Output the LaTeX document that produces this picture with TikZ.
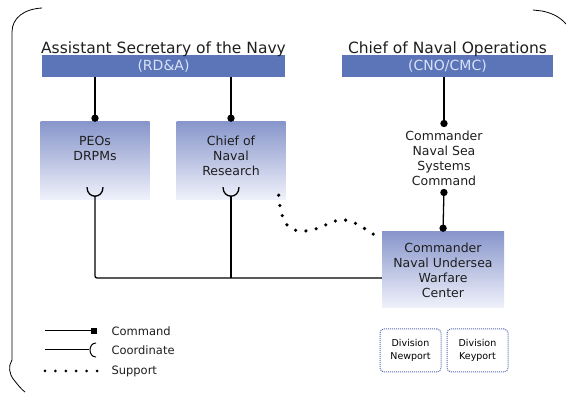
\documentclass[tikz,border=0pt]{standalone}
\usepackage{fontspec}
\setmainfont{DejaVu Sans}
\usepackage{tikz}
\usetikzlibrary{shapes,arrows,positioning,calc}
\definecolor{barblue}{HTML}{5B75B8}
\definecolor{bartext}{HTML}{D8E2F6}
\definecolor{boxtop}{HTML}{8896CB}
\definecolor{boxbottom}{HTML}{F0F2FB}
\definecolor{divline}{HTML}{5469B2}
\definecolor{inkgray}{HTML}{1E1E1E}

\begin{document}
\begin{tikzpicture}[x=1pt,y=-1pt,
  bar/.style={fill=barblue,minimum width=211pt,minimum height=22pt,inner sep=0pt,text=bartext,font=\fontsize{14}{16}\selectfont},
  title/.style={anchor=base,text=inkgray,font=\fontsize{15.5}{18}\selectfont},
  orgbox/.style={top color=boxtop,bottom color=boxbottom,minimum width=109pt,minimum height=78pt,inner sep=0pt},
  boxtext/.style={align=center,text=inkgray,font=\fontsize{12.5}{15}\selectfont},
  divbox/.style={draw=divline,densely dotted,rounded corners=4pt,line width=1pt,minimum width=61pt,minimum height=43pt,align=center,font=\fontsize{9.5}{12.5}\selectfont},
  cmd/.style={line width=1.3pt,-*},
  link/.style={line width=1.3pt},
  support/.style={line width=3.6pt,line cap=round,dash pattern=on 0pt off 10.4pt},
  legend/.style={text=inkgray,font=\fontsize{11.5}{14}\selectfont},
  cupmark/.pic={\draw[line width=1.3pt] (-8,-9) .. controls (-8,3) and (8,3) .. (8,-9);}
]
  \useasboundingbox (0,0) rectangle (566,393);

  % Frame corners
  \draw[line width=0.8pt] (42,8) .. controls (24,9) and (12,18) .. (12,32) -- (12,360)
    .. controls (8,366) and (9,374) .. (14,380) .. controls (18,385) and (21,389) .. (25,392);
  \draw[line width=0.8pt] (533,10) -- (542,11) .. controls (552,13) and (560,17) .. (566,24);

  % Top level bars
  \node[bar,minimum width=243pt] (asn) at (163.5,66) {(RD\&A)};
  \node[bar] (cno) at (447.5,66) {(CNO/CMC)};
  \node[title,yshift=1pt] (asntitle) at (asn.north) {Assistant Secretary of the Navy};
  \node[title,yshift=1pt] (cnotitle) at (cno.north) {Chief of Naval Operations};

  % Boxes
  \node[orgbox] (peo) at (95,161) {};
  \node[boxtext,below=11pt of peo.north] (peotxt) {PEOs\\DRPMs};
  \node[orgbox] (cnr) at (231,161) {};
  \node[boxtext,below=11pt of cnr.north] (cnrtxt) {Chief of\\Naval\\Research};
  \node[boxtext] (navsea) at (444,158) {Commander\\Naval Sea\\Systems\\Command};
  \node[orgbox,boxtext,minimum width=122pt,minimum height=76pt] (nuwc) at (443,270)
    {Commander\\Naval Undersea\\Warfare\\Center};
  \node[divbox] (newport) at (410.5,350.5) {Division\\Newport};
  \node[divbox,right=5pt of newport] (keyport) {Division\\Keyport};

  % Command lines
  \draw[cmd] (asn.south -| peo.north) -- (peo.north);
  \draw[cmd] (asn.south -| cnr.north) -- (cnr.north);
  \draw[cmd] (cno.south -| navsea.north) -- (navsea.north);
  \draw[link,*-*] (navsea.south) -- (nuwc.north);

  % Coordinate lines
  \coordinate (peocup) at ($(peo.south)+(0,-4)$);
  \coordinate (cnrcup) at ($(cnr.south)+(0,-4)$);
  \pic at (peocup) {cupmark};
  \pic at (cnrcup) {cupmark};
  \coordinate (bus) at (95,278);
  \draw[link,rounded corners=2pt] (peocup) -- (bus) -- (bus -| nuwc.west);
  \draw[link] (cnrcup) -- (cnrcup |- bus);

  % Support
  \coordinate (supa) at ($(cnr.south east)+(-7,-5)$);
  \coordinate (supb) at ($(nuwc.north west)+(-2,6)$);
  \draw[support] (supa) .. controls (281,226) and (290,232) .. (305,231)
    .. controls (322,230) and (333,218) .. (345,220)
    .. controls (358,222) and (368,232) .. (supb);

  % Legend
  \coordinate (lga) at (45,331);
  \coordinate (lgae) at (97,331);
  \draw[line width=1pt,-square] (lga) -- (lgae);
  \node[legend,right=11pt of lgae] (lgcmd) {Command};
  \coordinate (lgb) at (45,350);
  \coordinate (lgbe) at (89,350);
  \draw[line width=1pt] (lgb) -- (lgbe);
  \draw[line width=1pt] ($(lgbe)+(7,-7)$) .. controls +(-8,0) and +(-8,0) .. +(0,14);
  \node[legend,anchor=west] (lgcoord) at (lgcmd.west |- lgbe) {Coordinate};
  \coordinate (lgc) at (45,371);
  \coordinate (lgce) at (97,371);
  \draw[support,line width=3pt] (lgc) -- (lgce);
  \node[legend,anchor=west] (lgsup) at (lgcmd.west |- lgce) {Support};
\end{tikzpicture}
\end{document}
